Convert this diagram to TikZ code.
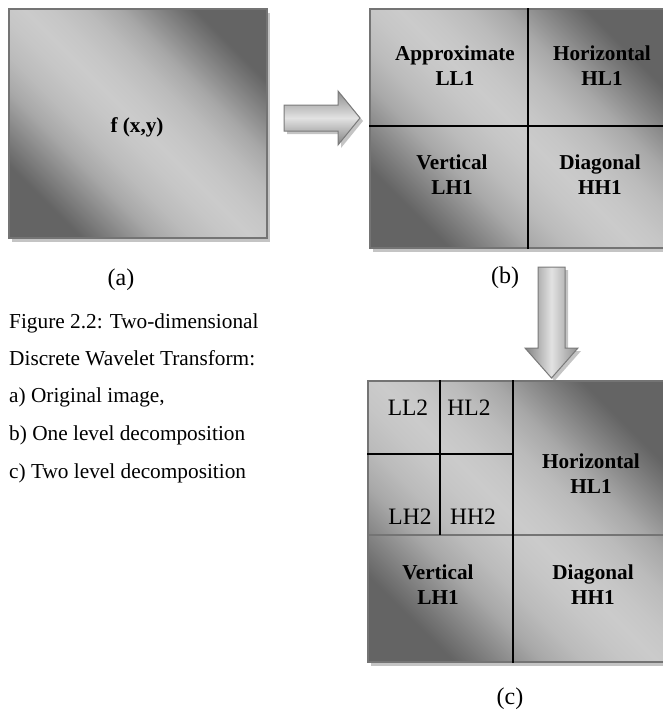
\documentclass[tikz,border=0pt]{standalone}
\usepackage{fontspec}
\setmainfont{Liberation Serif}
\usetikzlibrary{shadows}

% panel and arrow colours
\definecolor{shdark}{HTML}{646464}
\definecolor{shA}{HTML}{767676}
\definecolor{shB}{HTML}{8F8F8F}
\definecolor{shC}{HTML}{A8A8A8}
\definecolor{shD}{HTML}{BBBBBB}
\definecolor{shE}{HTML}{C6C6C6}
\definecolor{shlight}{HTML}{CBCBCB}
\definecolor{panelborder}{HTML}{747474}
\definecolor{shadowgray}{HTML}{C4C4C4}
\definecolor{arrowborder}{HTML}{7A7A7A}
\definecolor{arrowedge}{HTML}{8E8E8E}
\definecolor{arrowedgelow}{HTML}{828282}
\definecolor{arrowmid}{HTML}{E2E2E2}

% diagonal panel shading: dark at two opposite corners, wide light band between
\pgfdeclareverticalshading{panelshade}{100bp}{%
  color(0bp)=(shdark); color(25bp)=(shdark); color(28bp)=(shA);
  color(32bp)=(shB); color(36bp)=(shC); color(41bp)=(shD);
  color(46bp)=(shE); color(50bp)=(shlight); color(54bp)=(shE);
  color(59bp)=(shD); color(64bp)=(shC); color(68bp)=(shB);
  color(72bp)=(shA); color(75bp)=(shdark); color(100bp)=(shdark)}

\tikzset{
  panel/.style={draw=panelborder, line width=1.3pt, shade, shading=panelshade,
    shading angle=-45, inner sep=0pt,
    general shadow={fill=shadowgray, shadow xshift=3pt, shadow yshift=-4pt}},
  divider/.style={draw=black, line width=1.5pt},
  seam/.style={draw=panelborder, line width=2.2pt},
  blockarrow/.style={draw=arrowborder, line width=1pt, line join=miter,
    general shadow={fill=shadowgray, shadow xshift=3pt, shadow yshift=-3pt}},
  boldlabel/.style={font=\bfseries\fontsize{21.2}{25}\selectfont, align=center, inner sep=0pt},
  sublabel/.style={font=\fontsize{23.5}{26}\selectfont, inner sep=0pt},
  partlabel/.style={font=\fontsize{24}{28}\selectfont, inner sep=0pt},
  captionline/.style={font=\fontsize{21.3}{26}\selectfont, anchor=base west, inner sep=0pt},
}

\begin{document}
\begin{tikzpicture}[x=1pt,y=-1pt]
\useasboundingbox (0,0) rectangle (663,710);
\clip (0,0) rectangle (663,710);

% (a) original image
\node[panel, minimum width=258pt, minimum height=229pt] (boxa) at (138,123.5) {};
\node[boldlabel] (fxy) at (137,127) {f (x,y)};
\node[partlabel] (capa) at (121,280) {(a)};

% arrow from (a) to (b); the middle colour is given last so it is kept
\path[blockarrow, shade, top color=arrowedge, bottom color=arrowedgelow, middle color=arrowmid]
  (284,105) -- (338,105) -- (338,91) -- (360,118) -- (338,145) -- (338,131) -- (284,131) -- cycle;

% (b) one level decomposition
\node[panel, minimum width=295pt, minimum height=239pt] (boxb) at (517.5,128.5) {};
\coordinate (bx) at (528,126);
\draw[divider] (bx |- boxb.north) -- (bx |- boxb.south);
\draw[divider] (bx -| boxb.west) -- (bx -| boxb.east);
\node[boldlabel] (bll) at (455,66) {Approximate\\LL1};
\node[boldlabel] (bhl) at (602,66) {Horizontal\\HL1};
\node[boldlabel] (blh) at (452,175) {Vertical\\LH1};
\node[boldlabel] (bhh) at (600,175) {Diagonal\\HH1};
\node[partlabel] (capb) at (505,278) {(b)};

% arrow from (b) to (c)
\path[blockarrow, shade, left color=arrowedgelow, right color=arrowedge, middle color=arrowmid]
  (538,267) -- (565,267) -- (565,348) -- (578,348) -- (551.5,378) -- (525,348) -- (538,348) -- cycle;

% (c) two level decomposition
\node[panel, minimum width=300pt, minimum height=281pt] (boxc) at (518,521.5) {};
\coordinate (cx) at (513,535);
\coordinate (cs) at (440,454);
\draw[seam] (cx -| boxc.west) -- (cx -| boxc.east);
\draw[divider] (cx |- boxc.north) -- (cx |- boxc.south);
\draw[divider] (cs |- boxc.north) -- (cs |- cx);
\draw[divider] (cs -| boxc.west) -- (cs -| cx);
\node[sublabel] (cll2) at (408,408) {LL2};
\node[sublabel] (chl2) at (469,408) {HL2};
\node[sublabel] (clh2) at (410,517) {LH2};
\node[sublabel] (chh2) at (473,517) {HH2};
\node[boldlabel] (chl) at (591,474) {Horizontal\\HL1};
\node[boldlabel] (clh) at (438,585) {Vertical\\LH1};
\node[boldlabel] (chh) at (593,585) {Diagonal\\HH1};
\node[partlabel] (capc) at (510,699) {(c)};

% figure caption
\node[captionline] (cap1) at (9,328) {Figure 2.2: Two-dimensional};
\node[captionline] (cap2) at (9,365) {Discrete Wavelet Transform:};
\node[captionline] (cap3) at (9,402) {a) Original image,};
\node[captionline] (cap4) at (9,440) {b) One level decomposition};
\node[captionline] (cap5) at (9,478) {c) Two level decomposition};
\end{tikzpicture}
\end{document}
